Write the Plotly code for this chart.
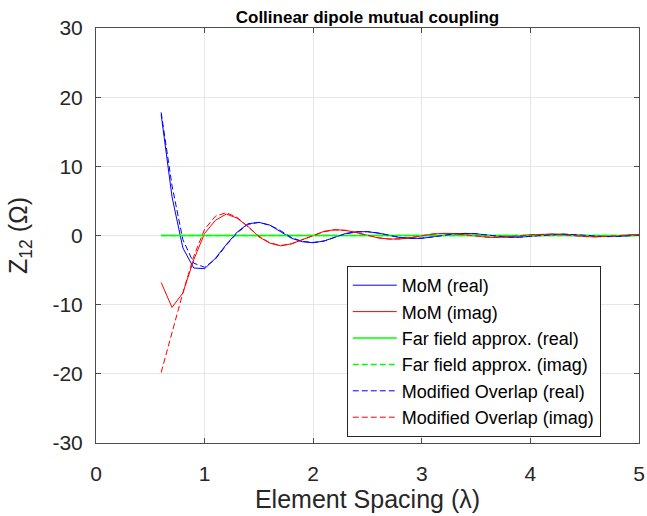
import plotly.graph_objects as go

spacing = [0.6, 0.7, 0.8, 0.9, 1.0, 1.1, 1.2, 1.3, 1.4, 1.5, 1.6, 1.7, 1.8, 1.9, 2.0,
           2.1, 2.2, 2.3, 2.4, 2.5, 2.6, 2.7, 2.8, 2.9, 3.0, 3.1, 3.2, 3.3, 3.4, 3.5,
           3.6, 3.7, 3.8, 3.9, 4.0, 4.1, 4.2, 4.3, 4.4, 4.5, 4.6, 4.7, 4.8, 4.9, 5.0]

mom_real = [17.5, 5.6, -1.8, -4.7, -4.8, -3.3, -1.3, 0.5, 1.7, 1.9, 1.5, 0.6, -0.4, -0.9, -1.05,
            -0.8, -0.2, 0.3, 0.55, 0.55, 0.35, 0.0, -0.3, -0.42, -0.4, -0.2, 0.05, 0.25, 0.3, 0.25,
            0.05, -0.15, -0.25, -0.25, -0.12, 0.05, 0.18, 0.2, 0.15, 0.0, -0.12, -0.18, -0.15, -0.05, 0.08]

mom_imag = [-6.8, -10.4, -8.3, -3.5, 0.3, 2.2, 3.1, 2.5, 1.3, -0.2, -1.1, -1.5, -1.2, -0.6, 0.1,
            0.6, 0.85, 0.75, 0.4, 0.0, -0.35, -0.52, -0.5, -0.3, 0.0, 0.22, 0.3, 0.28, 0.1, -0.1,
            -0.25, -0.28, -0.2, -0.05, 0.12, 0.2, 0.2, 0.1, -0.05, -0.15, -0.2, -0.15, -0.05, 0.08, 0.15]

far_real = [0.0] * 45
far_imag = [0.0] * 45

mo_real = [17.8, 7.2, -0.6, -4.0, -4.6, -3.4, -1.4, 0.4, 1.6, 1.9, 1.5, 0.7, -0.3, -0.85, -1.0,
           -0.8, -0.25, 0.25, 0.5, 0.55, 0.35, 0.02, -0.28, -0.4, -0.38, -0.2, 0.05, 0.22, 0.3, 0.25,
           0.07, -0.13, -0.23, -0.23, -0.12, 0.04, 0.16, 0.19, 0.14, 0.01, -0.11, -0.17, -0.14, -0.05, 0.07]

mo_imag = [-19.8, -14.0, -8.3, -3.0, 0.9, 2.8, 3.3, 2.6, 1.3, -0.1, -1.05, -1.45, -1.2, -0.6, 0.05,
           0.55, 0.8, 0.72, 0.4, 0.0, -0.33, -0.5, -0.48, -0.3, -0.02, 0.2, 0.3, 0.27, 0.1, -0.1,
           -0.23, -0.27, -0.2, -0.05, 0.1, 0.19, 0.19, 0.1, -0.04, -0.14, -0.19, -0.15, -0.05, 0.07, 0.14]

x_ticks = [0, 1, 2, 3, 4, 5]
y_ticks = [-30, -20, -10, 0, 10, 20, 30]

FONT = "Liberation Sans, Arial, Helvetica, sans-serif"
DASH = "6px,3px"

series = [
    ("MoM (real)", mom_real, "#0000ff", "solid", 1),
    ("MoM (imag)", mom_imag, "#ff0000", "solid", 1),
    ("Far field approx. (real)", far_real, "#00ff00", "solid", 1.5),
    ("Far field approx. (imag)", far_imag, "#00ff00", DASH, 1.5),
    ("Modified Overlap (real)", mo_real, "#0000ff", DASH, 1),
    ("Modified Overlap (imag)", mo_imag, "#ff0000", DASH, 1),
]

fig = go.Figure()
for name, vals, color, dash, w in series:
    fig.add_trace(go.Scatter(x=spacing, y=vals, mode="lines", name=name,
                             line=dict(color=color, width=w, dash=dash)))

axis_common = dict(
    showline=True, linecolor="#4d4d4d", linewidth=1, mirror="allticks",
    ticks="inside", ticklen=5, tickcolor="#4d4d4d", tickwidth=1,
    showgrid=True, gridcolor="#e6e6e6", gridwidth=1, zeroline=False,
    tickfont=dict(family=FONT, size=21, color="#262626"),
    automargin=False,
)

W, H = 647, 516
fig.update_layout(
    width=W, height=H,
    margin=dict(l=96, r=7.5, t=28, b=73),
    paper_bgcolor="white", plot_bgcolor="white",
    title=dict(text="<b>Collinear dipole mutual coupling</b>",
               font=dict(family=FONT, size=17, color="black"),
               x=0.5, xref="paper", xanchor="center",
               y=1 - 17 / H, yref="container", yanchor="middle", automargin=False),
    xaxis=dict(range=[0, 5], tickvals=x_ticks, ticktext=[str(v) for v in x_ticks],
               ticklabelstandoff=12,
               title=dict(text="Element Spacing (λ)", font=dict(family=FONT, size=25, color="#262626"), standoff=6),
               **axis_common),
    yaxis=dict(range=[-30, 30], tickvals=y_ticks, ticktext=[str(v) for v in y_ticks],
               ticklabelstandoff=8,
               title=dict(text="Z<sub>12</sub> (Ω)", font=dict(family=FONT, size=25, color="#262626"), standoff=17),
               **axis_common),
    legend=dict(x=(347 - 96) / 543.5, y=(443 - 266) / 415, xanchor="left", yanchor="top",
                bgcolor="white", bordercolor="#262626", borderwidth=1,
                font=dict(family=FONT, size=18, color="black"),
                itemwidth=44, tracegroupgap=0),
    showlegend=True,
)

fig.write_html("out.html",
               config={"displayModeBar": False},
               post_script="document.body.style.margin='0';document.body.style.overflow='hidden';")
